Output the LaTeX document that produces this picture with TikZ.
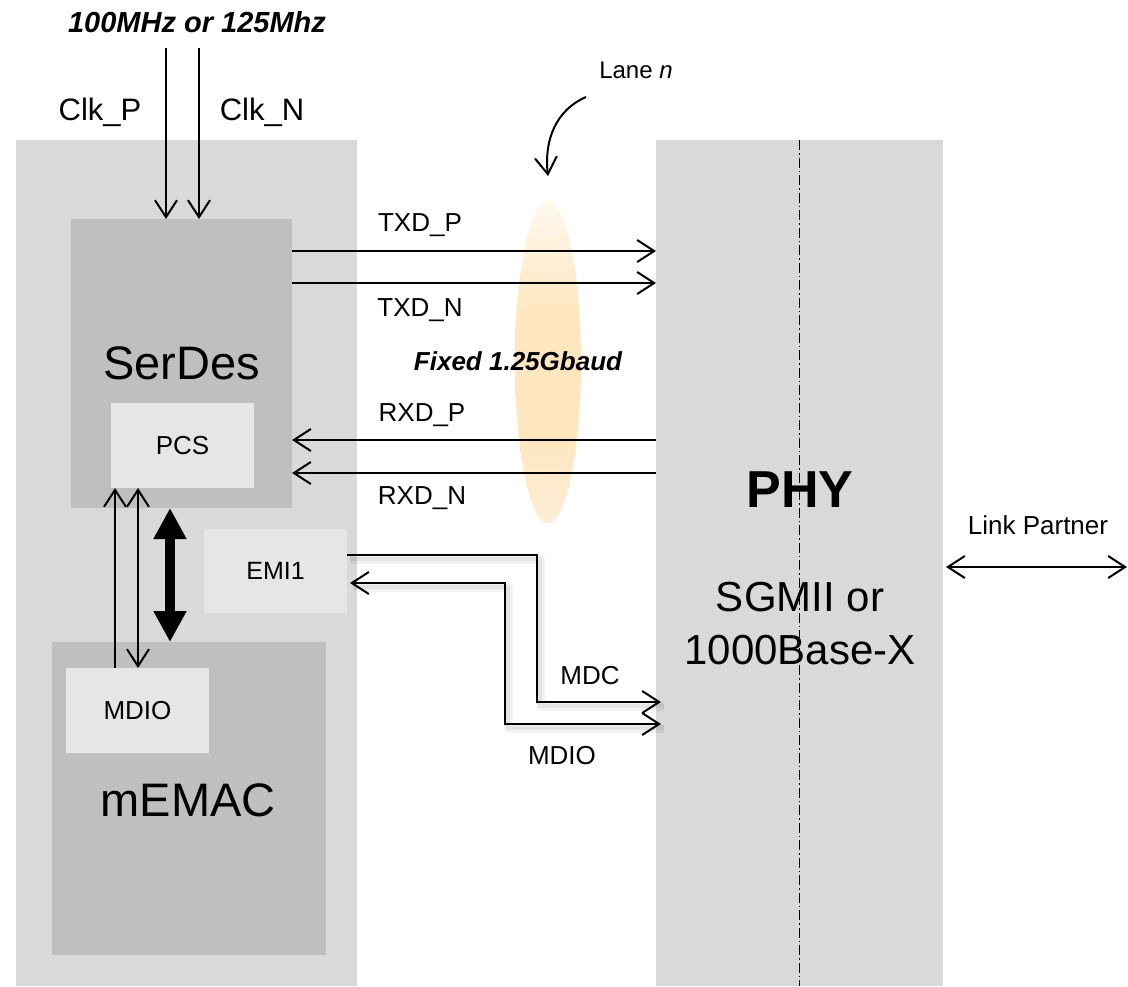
\documentclass[tikz,border=0pt]{standalone}
\usepackage{fontspec}
\setmainfont{Liberation Sans}
\usetikzlibrary{arrows.meta,shapes.geometric}
\definecolor{outerg}{HTML}{D9D9D9}
\definecolor{midg}{HTML}{BFBFBF}
\definecolor{lightg}{HTML}{E6E6E6}
\definecolor{laneor}{HTML}{FEE6C0}
\definecolor{laneorb}{HTML}{FEEED8}
\definecolor{laneort}{HTML}{FFF9F0}
\pgfdeclareverticalshading{laneshade}{100bp}{color(0bp)=(laneorb); color(25bp)=(laneorb); color(38bp)=(laneor); color(58bp)=(laneor); color(75bp)=(laneort); color(100bp)=(laneort)}
\newcommand\fsz[1]{\fontsize{#1}{#1}\selectfont}
\begin{document}
\begin{tikzpicture}[x=1pt,y=-1pt,
  box/.style={draw=none, inner sep=0pt, outer sep=0pt},
  arr/.style={line width=2pt, -{Straight Barb[length=17pt,width=22pt]}},
  darr/.style={line width=2pt, {Straight Barb[length=17pt,width=22pt]}-{Straight Barb[length=17pt,width=22pt]}},
  lbl/.style={inner sep=0pt, font=\fsz{26}},
  shadowed/.style={preaction={draw=black, opacity=0.05, line width=9pt, -, line join=round, transform canvas={shift={(3pt,-4pt)}}},
                   preaction={draw=black, opacity=0.06, line width=4pt, -, line join=round, transform canvas={shift={(3pt,-4pt)}}}},
]
\useasboundingbox (0,0) rectangle (1128,986);

% big boxes
\node[box, fill=outerg, minimum width=341pt, minimum height=846pt] (outer) at (186.5,563) {};
\node[box, fill=outerg, minimum width=287pt, minimum height=846pt] (phy) at (799.5,563) {};
\draw[line width=1.3pt, dash pattern=on 10pt off 3pt on 1.5pt off 3pt] (phy.north) -- (phy.south);

% lane ellipse
\node[ellipse, draw=none, inner sep=0pt, minimum width=66pt, minimum height=323pt,
      shading=laneshade] (lane) at (548,362) {};

% inner boxes
\node[box, fill=midg, minimum width=221pt, minimum height=289pt, font=\fsz{47}] (serdes) at (181.5,363.5) {SerDes};
\node[box, fill=lightg, minimum width=143pt, minimum height=85pt, font=\fsz{26}] (pcs) at (182.5,445.5) {PCS};
\node[box, fill=lightg, minimum width=143pt, minimum height=84pt, font=\fsz{25}] (emi) at (275.5,571) {EMI1};
\node[box, fill=midg, minimum width=274pt, minimum height=313pt] (memac) at (189,798.5) {};
\node[inner sep=0pt, font=\fsz{47}] (memactext) at (188,800) {mEMAC};
\node[box, fill=lightg, minimum width=143pt, minimum height=85pt, font=\fsz{26}] (mdio) at (137.5,710.5) {MDIO};

% PHY texts
\node[inner sep=0pt, font=\bfseries\fsz{52}] (phytext) at (800,490) {PHY};
\node[inner sep=0pt, font=\fontsize{42}{53}\selectfont, align=center] (phymode) at (800,624) {SGMII or\\1000Base-X};

% clock
\node[inner sep=0pt, font=\bfseries\itshape\fsz{29}] (freq) at (197,22) {100MHz or 125Mhz};
\node[inner sep=0pt, font=\fsz{31}] (clkp) at (100,112) {Clk\_P};
\node[inner sep=0pt, font=\fsz{31}] (clkn) at (262,112) {Clk\_N};
\coordinate (ckp) at (166,48);
\coordinate (ckn) at (199,48);
\draw[arr] (ckp) -- (ckp |- serdes.north);
\draw[arr] (ckn) -- (ckn |- serdes.north);

% serial lanes
\coordinate (ty1) at (0,251);
\coordinate (ty2) at (0,283);
\coordinate (ry1) at (0,440);
\coordinate (ry2) at (0,473);
\draw[arr] (serdes.east |- ty1) -- (phy.west |- ty1);
\draw[arr] (serdes.east |- ty2) -- (phy.west |- ty2);
\draw[arr] (phy.west |- ry1) -- (serdes.east |- ry1);
\draw[arr] (phy.west |- ry2) -- (serdes.east |- ry2);
\node[lbl] (txdp) at (420,225) {TXD\_P};
\node[lbl] (txdn) at (420,310) {TXD\_N};
\node[lbl] (rxdp) at (422,415) {RXD\_P};
\node[lbl] (rxdn) at (422,498) {RXD\_N};
\node[inner sep=0pt, font=\bfseries\itshape\fsz{26}] (baud) at (518,361) {Fixed 1.25Gbaud};

% lane n
\node[inner sep=0pt, font=\fsz{24}] (lanen) at (636,70) {Lane \textit{n}};
\coordinate (lstart) at (586,97);
\coordinate (ltip) at (548,176);
\draw[arr] (lstart) .. controls (556,110) and (544,140) .. (ltip);

% PCS <-> MDIO
\coordinate (vx1) at (115,0);
\coordinate (vx2) at (138,0);
\coordinate (vx3) at (170,0);
\draw[arr] (vx1 |- mdio.north) -- (vx1 |- pcs.south);
\draw[darr] (vx2 |- pcs.south) -- (vx2 |- mdio.north);
\draw[line width=10pt, {Triangle[length=31pt,width=31pt]}-{Triangle[length=31pt,width=31pt]}]
  (vx3 |- serdes.south) -- (vx3 |- memac.north);

% EMI1 <-> PHY
\coordinate (mdc1) at (537,555);
\coordinate (mdc2) at (537,702);
\coordinate (mdio1) at (505,583);
\coordinate (mdio2) at (505,724);
\draw[arr, shadowed] (emi.east |- mdc1) -- (mdc1) -- (mdc2) -- ([xshift=5pt]phy.west |- mdc2);
\draw[darr, shadowed] ([xshift=5pt]phy.west |- mdio2) -- (mdio2) -- (mdio1) -- ([xshift=3pt]emi.east |- mdio1);
\node[lbl] (mdclbl) at (590,676) {MDC};
\node[lbl] (mdiolbl) at (562,756) {MDIO};

% link partner
\node[lbl] (lp) at (1038,525) {Link Partner};
\coordinate (lpend) at (1127,567);
\draw[darr] ([xshift=3pt]phy.east |- lpend) -- (lpend);
\end{tikzpicture}
\end{document}
